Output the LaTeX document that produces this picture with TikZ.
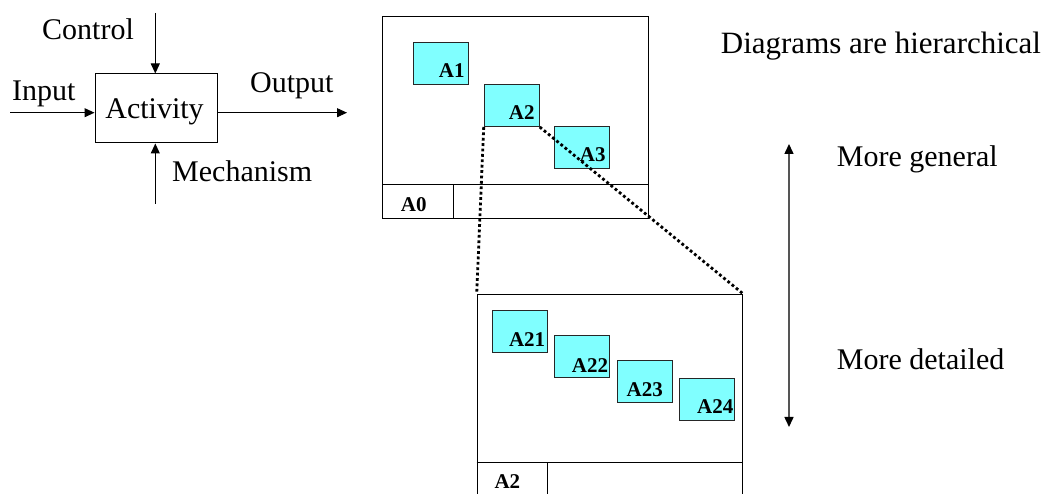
\documentclass[tikz,border=0pt]{standalone}
\usepackage{fontspec}
\setmainfont{Liberation Serif}
\usetikzlibrary{arrows.meta,calc}
\definecolor{boxcyan}{HTML}{80FFFF}
\definecolor{axisgray}{HTML}{555555}
\tikzset{
  big/.style={font=\fontsize{30}{34}\selectfont, inner sep=0pt},
  tag/.style={font=\fontsize{21}{24}\selectfont\bfseries, inner sep=0pt},
  flow/.style={line width=1pt, -{Triangle[length=10pt,width=9pt]}},
  frame/.style={draw, line width=1pt, rectangle, inner sep=0pt},
  abox/.style={draw=black!85, line width=1pt, fill=boxcyan, rectangle,
    minimum width=55pt, minimum height=42pt, inner sep=0pt},
  zoomline/.style={line width=2.8pt, dash pattern=on 2.8pt off 2.6pt},
}
\begin{document}
\begin{tikzpicture}[x=1pt,y=-1pt]
  \useasboundingbox (0,0) rectangle (1045,494);
  \clip (0,0) rectangle (1045,494);

  % ICOM activity box
  \node[frame, minimum width=122pt, minimum height=69pt] (act) at (156,108.5) {};
  \node[big, anchor=base] (actlbl) at (154.5,119) {Activity};
  \coordinate (ctop) at (155.3,13);
  \coordinate (mbot) at (155.3,204);
  \coordinate (inL) at (10,112.7);
  \coordinate (outR) at (347,112.7);
  \draw[flow] (ctop) -- (ctop |- act.north);
  \draw[flow] (mbot) -- (mbot |- act.south);
  \draw[flow] (inL) -- (inL -| act.west);
  \draw[flow] (outR -| act.east) -- (outR);
  \node[big, anchor=base west] (ctl) at (42,40) {Control};
  \node[big, anchor=base west] (inp) at (12,100.5) {Input};
  \node[big, anchor=base west] (outp) at (250,93) {Output};
  \node[big, anchor=base west] (mech) at (172,181.7) {Mechanism};

  % Parent diagram A0
  \node[frame, minimum width=266pt, minimum height=201.6pt] (top) at (515.7,117.5) {};
  \coordinate (tdiv) at (0,184.3);
  \draw[line width=1pt] (top.west |- tdiv) -- (top.east |- tdiv);
  \draw[line width=1pt] (453.3,0 |- tdiv) -- (453.3,0 |- top.south);
  \node[tag, anchor=base west] (a0lbl) at (400.7,211.7) {A0};

  \node[abox] (a1) at (441.3,63.3) {};
  \node[abox] (a2) at (511.7,105.5) {};
  \node[abox] (a3) at (581.8,147.2) {};
  \node[tag, anchor=base east] (a1lbl) at ($(a1.south east)+(-4.5,-7)$) {A1};
  \node[tag, anchor=base east] (a2lbl) at ($(a2.south east)+(-5,-7.3)$) {A2};
  \node[tag, anchor=base east] (a3lbl) at ($(a3.south east)+(-4,-6.7)$) {A3};

  % Child diagram A2
  \node[frame, minimum width=265.6pt, minimum height=210pt, anchor=north west] (bot) at (476.7,294) {};
  \coordinate (bdiv) at (0,462.3);
  \draw[line width=1pt] (bot.west |- bdiv) -- (bot.east |- bdiv);
  \draw[line width=1pt] (547.3,0 |- bdiv) -- (547.3,0 |- bot.south);
  \node[tag, anchor=base west] (a2tag) at (494.3,488.3) {A2};

  \node[abox] (a21) at (519.7,331.7) {};
  \node[abox] (a22) at (581.8,357) {};
  \node[abox] (a23) at (644.7,382) {};
  \node[abox] (a24) at (707,399.2) {};
  \node[tag, anchor=base east] (a21lbl) at ($(a21.south east)+(-2.3,-6.7)$) {A21};
  \node[tag, anchor=base east] (a22lbl) at ($(a22.south east)+(-1.6,-6.3)$) {A22};
  \node[tag, anchor=base east] (a23lbl) at ($(a23.south east)+(-9.7,-7.3)$) {A23};
  \node[tag, anchor=base east] (a24lbl) at ($(a24.south east)+(-1.4,-7)$) {A24};

  % Decomposition lines
  \draw[zoomline] (a2.south west) -- (bot.north west);
  \draw[zoomline] (a2.south east) -- (bot.north east);

  % Level-of-detail axis
  \coordinate (axtop) at (789,144);
  \coordinate (axbot) at (789,427);
  \draw[axisgray, line width=1.5pt, {Triangle[length=10pt,width=9pt,black]}-{Triangle[length=10pt,width=9pt,black]}] (axtop) -- (axbot);
  \node[big, anchor=base west] (gen) at (836.7,166.7) {More general};
  \node[big, anchor=base west] (det) at (836.7,369.3) {More detailed};
  \node[big, anchor=base west, font=\fontsize{31}{35}\selectfont] (hier) at (720.7,54) {Diagrams are hierarchical};
\end{tikzpicture}
\end{document}
